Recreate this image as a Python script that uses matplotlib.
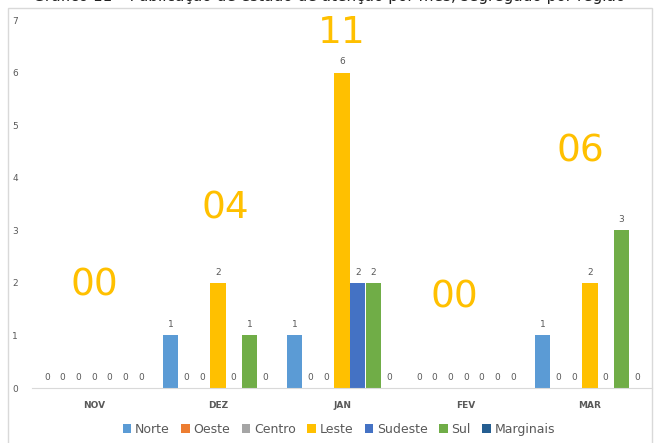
import numpy as np
import matplotlib.pyplot as plt
from matplotlib.patches import Rectangle

meses = ["NOV", "DEZ", "JAN", "FEV", "MAR"]
regioes = ["Norte", "Oeste", "Centro", "Leste", "Sudeste", "Sul", "Marginais"]
cores = ["#5B9BD5", "#ED7D31", "#A5A5A5", "#FFC000", "#4472C4", "#70AD47", "#255E91"]

# publicações por região (linhas) e mês (colunas)
norte     = [0, 1, 1, 0, 1]
oeste     = [0, 0, 0, 0, 0]
centro    = [0, 0, 0, 0, 0]
leste     = [0, 2, 6, 0, 2]
sudeste   = [0, 0, 2, 0, 0]
sul       = [0, 1, 2, 0, 3]
marginais = [0, 0, 0, 0, 0]

totais = ["00", "04", "11", "00", "06"]
pos_totais = [(0.0, 1.95), (0.06, 3.42), (0.0, 6.75), (-0.09, 1.72), (-0.08, 4.5)]

dados = [norte, oeste, centro, leste, sudeste, sul, marginais]

fig = plt.figure(figsize=(6.59, 4.43), dpi=100)
ax = fig.add_axes([32/659, 55/443, 620/659, 368/443])

x = np.arange(len(meses))
passo = 0.127
largura = 0.122
cinza = "#595959"

for i, (serie, cor, nome) in enumerate(zip(dados, cores, regioes)):
    xs = x + (i - 3) * passo
    ax.bar(xs, serie, largura, color=cor, label=nome)
    for xi, v in zip(xs, serie):
        ax.text(xi, v + 0.12, str(v), ha="center", va="bottom",
                fontsize=6.5, color=cinza)

for xi, t, (dx, yy) in zip(x, totais, pos_totais):
    ax.text(xi + dx, yy, t, ha="center", va="center", fontsize=27,
            color="#FFC000")

ax.set_xlim(-0.5, len(meses) - 0.5)
ax.set_ylim(0, 7)
ax.set_xticks(x)
ax.set_xticklabels(meses, fontsize=6.5, fontweight="bold", color=cinza)
ax.set_yticks(range(8))
ax.set_yticklabels([str(v) for v in range(8)], fontsize=6.5, color=cinza)
ax.tick_params(axis="both", length=0)
ax.tick_params(axis="x", pad=9)
ax.tick_params(axis="y", pad=10)
for lado in ["top", "right", "left"]:
    ax.spines[lado].set_visible(False)
ax.spines["bottom"].set_color("#D9D9D9")

ax.legend(loc="upper center", bbox_to_anchor=(0.495, -0.065), ncol=7,
          frameon=False, fontsize=9, handlelength=0.7, handleheight=0.7,
          handletextpad=0.3, columnspacing=0.9, labelcolor=cinza)

# moldura do gráfico
fig.patches.append(Rectangle((8/659, -0.01), 644/659, 1 - 8/443 + 0.01,
                             transform=fig.transFigure, fill=False,
                             edgecolor="#D9D9D9", linewidth=1))

# título da página, parcialmente cortado acima da moldura
fig.text(0.5, 1 - 1.5/443, "Gráfico 11 – Publicação de estado de atenção por mês, segregado por região",
         ha="center", va="baseline", fontsize=11, color="#222222")

fig.savefig("out.png", dpi=100)
